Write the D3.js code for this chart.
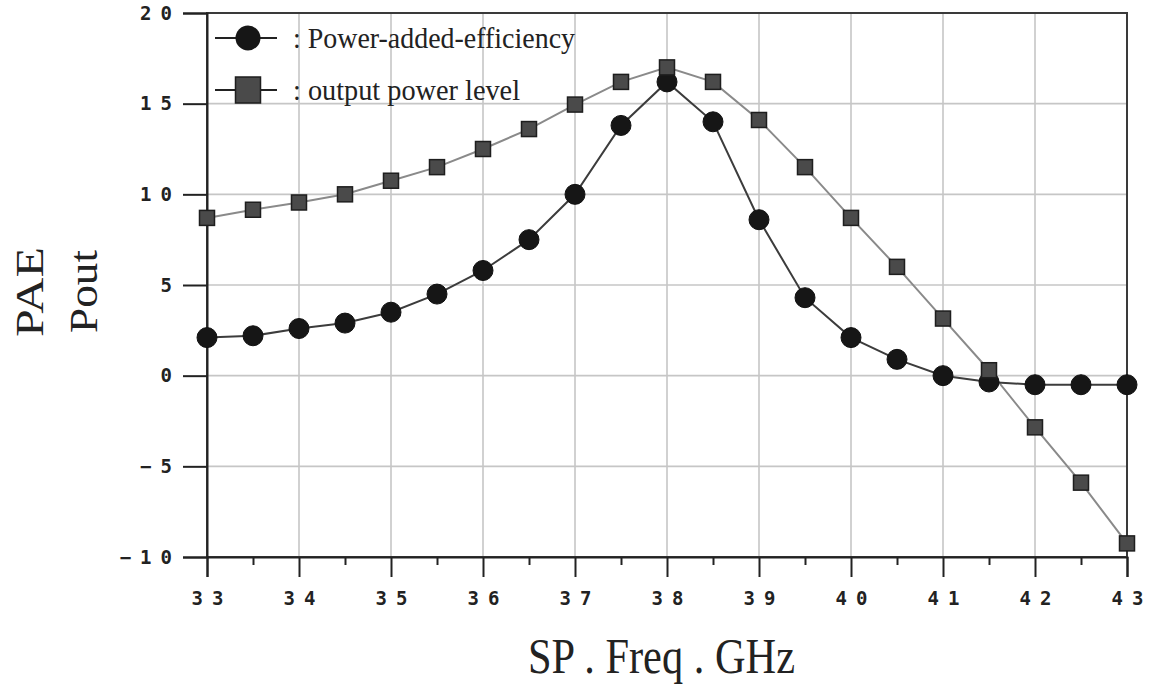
<!DOCTYPE html>
<html>
<head>
<meta charset="utf-8">
<script src="https://cdn.jsdelivr.net/npm/d3@7"></script>
<style>
  html, body { margin: 0; padding: 0; background: #fff; }
  svg { display: block; }
</style>
</head>
<body>
<svg id="chart" width="1154" height="684"></svg>
<script>
// ---- data ----
const freq = [33, 33.5, 34, 34.5, 35, 35.5, 36, 36.5, 37, 37.5, 38, 38.5, 39, 39.5, 40, 40.5, 41, 41.5, 42, 42.5, 43];
const pae  = [2.1, 2.2, 2.6, 2.9, 3.5, 4.5, 5.8, 7.5, 10.0, 13.8, 16.2, 14.0, 8.6, 4.3, 2.1, 0.9, 0.0, -0.35, -0.5, -0.5, -0.5];
const pout = [8.7, 9.15, 9.55, 10.0, 10.75, 11.5, 12.5, 13.6, 14.95, 16.2, 17.0, 16.2, 14.1, 11.5, 8.7, 6.0, 3.15, 0.3, -2.85, -5.9, -9.25];
const xTicks = [33, 34, 35, 36, 37, 38, 39, 40, 41, 42, 43];
const xMinorTicks = [33.5, 34.5, 35.5, 36.5, 37.5, 38.5, 39.5, 40.5, 41.5, 42.5];
const yTicks = [-10, -5, 0, 5, 10, 15, 20];
const seriesNames = [": Power-added-efficiency", ": output power level"];
const xTitle = "SP . Freq . GHz";
const yTitles = ["PAE", "Pout"];

// ---- layout ----
const L = 207, R = 1127, T = 13, B = 557;
const svg = d3.select("#chart");
const x = d3.scaleLinear().domain([33, 43]).range([L, R]);
const y = d3.scaleLinear().domain([-10, 20]).range([B, T]);

// grid
const grid = svg.append("g").attr("stroke", "#c6c6c6").attr("stroke-width", 1.6);
grid.selectAll("line.vx").data(xTicks.slice(1, -1)).join("line")
  .attr("x1", d => x(d)).attr("x2", d => x(d)).attr("y1", T).attr("y2", B);
grid.selectAll("line.hy").data(yTicks.slice(1, -1)).join("line")
  .attr("y1", d => y(d)).attr("y2", d => y(d)).attr("x1", L).attr("x2", R);

// frame (top/right)
svg.append("rect").attr("x", L).attr("y", T).attr("width", R - L).attr("height", B - T)
  .attr("fill", "none").attr("stroke", "#3a3a3a").attr("stroke-width", 2);

const tickFont = "'DejaVu Sans Mono', monospace";
const ls = 9;

// x axis
const xAxis = d3.axisBottom(x).tickValues(xTicks).tickSize(20).tickPadding(15)
  .tickFormat(d3.format("d"));
const gx = svg.append("g").attr("transform", `translate(0,${B})`).call(xAxis);
gx.select(".domain").attr("stroke", "#222").attr("stroke-width", 2);
gx.selectAll(".tick line").attr("stroke", "#222").attr("stroke-width", 2);
gx.selectAll(".tick text").attr("font-family", tickFont).attr("font-size", 19)
  .attr("font-weight", "bold").attr("fill", "#222")
  .style("letter-spacing", ls + "px").attr("dx", ls / 2);
svg.append("g").attr("transform", `translate(0,${B})`)
  .call(d3.axisBottom(x).tickValues(xMinorTicks).tickSize(8).tickFormat(""))
  .call(g => g.select(".domain").remove())
  .selectAll(".tick line").attr("stroke", "#222").attr("stroke-width", 2);

// y axis
const yAxis = d3.axisLeft(y).tickValues(yTicks).tickSize(24).tickPadding(11)
  .tickFormat(d => d < 0 ? "\u2212" + Math.abs(d) : String(d));
const gy = svg.append("g").attr("transform", `translate(${L},0)`).call(yAxis);
gy.select(".domain").attr("stroke", "#222").attr("stroke-width", 2);
gy.selectAll(".tick line").attr("stroke", "#222").attr("stroke-width", 2);
gy.selectAll(".tick text").attr("font-family", tickFont).attr("font-size", 19)
  .attr("font-weight", "bold").attr("fill", "#222")
  .style("letter-spacing", ls + "px").attr("dx", ls);

// lines
const pts = (vals) => freq.map((f, i) => [f, vals[i]]);
const line = d3.line().x(d => x(d[0])).y(d => y(d[1]));
svg.append("path").datum(pts(pout)).attr("d", line)
  .attr("fill", "none").attr("stroke", "#8a8a8a").attr("stroke-width", 2);
svg.append("path").datum(pts(pae)).attr("d", line)
  .attr("fill", "none").attr("stroke", "#3c3c3c").attr("stroke-width", 2);

// markers
svg.append("g").selectAll("circle").data(pts(pae)).join("circle")
  .attr("cx", d => x(d[0])).attr("cy", d => y(d[1])).attr("r", 10)
  .attr("fill", "#161616").attr("stroke", "#111").attr("stroke-width", 1);
const sq = 15;
svg.append("g").selectAll("rect").data(pts(pout)).join("rect")
  .attr("x", d => x(d[0]) - sq / 2).attr("y", d => y(d[1]) - sq / 2)
  .attr("width", sq).attr("height", sq)
  .attr("fill", "#4a4a4a").attr("stroke", "#1e1e1e").attr("stroke-width", 1.5);

// legend
const serif = "'Liberation Serif', 'Times New Roman', serif";
const lg = svg.append("g");
[[38, "circle"], [90, "square"]].forEach(([ly, kind], i) => {
  lg.append("line").attr("x1", 215).attr("x2", 277).attr("y1", ly).attr("y2", ly)
    .attr("stroke", "#222").attr("stroke-width", 2);
  if (kind === "circle") {
    lg.append("circle").attr("cx", 248).attr("cy", ly).attr("r", 12.5)
      .attr("fill", "#161616");
  } else {
    lg.append("rect").attr("x", 248 - 12.5).attr("y", ly - 13).attr("width", 25).attr("height", 26)
      .attr("fill", "#4a4a4a").attr("stroke", "#1e1e1e").attr("stroke-width", 1.5);
  }
  lg.append("text").attr("x", 293).attr("y", ly + 10)
    .attr("font-family", serif).attr("font-size", 30).attr("fill", "#222")
    .attr("textLength", i === 0 ? 282 : 227).attr("lengthAdjust", "spacingAndGlyphs")
    .text(seriesNames[i]);
});

// axis titles
svg.append("text").attr("x", 528).attr("y", 673)
  .attr("font-family", serif).attr("font-size", 50).attr("fill", "#222")
  .attr("textLength", 267).attr("lengthAdjust", "spacingAndGlyphs")
  .text(xTitle);
svg.append("text").attr("transform", "translate(43,337) rotate(-90)")
  .attr("font-family", serif).attr("font-size", 41).attr("fill", "#222")
  .attr("textLength", 90).attr("lengthAdjust", "spacingAndGlyphs")
  .text(yTitles[0]);
svg.append("text").attr("transform", "translate(97,333) rotate(-90)")
  .attr("font-family", serif).attr("font-size", 41).attr("fill", "#222")
  .attr("textLength", 83).attr("lengthAdjust", "spacingAndGlyphs")
  .text(yTitles[1]);
</script>
</body>
</html>
